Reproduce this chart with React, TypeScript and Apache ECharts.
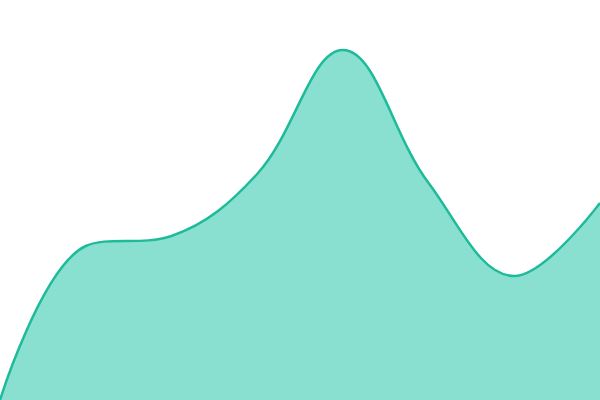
import { useRef, useEffect } from 'react';
import * as echarts from 'echarts';

const categories = ['1', '2', '3', '4', '5', '6', '7', '8'];
const values = [0, 154, 164, 226, 350, 217, 124, 197];

export default function App() {
  const chartRef = useRef<HTMLDivElement>(null);
  useEffect(() => {
    let chart: echarts.ECharts | undefined;
    if (chartRef.current) {
      chart = echarts.init(chartRef.current, undefined, { renderer: 'svg' });
      chart.setOption({
        animation: false,
        grid: { left: 0, right: 0, top: 0, bottom: 0 },
        xAxis: {
          type: 'category',
          data: categories,
          boundaryGap: false,
          show: false,
        },
        yAxis: { type: 'value', min: 0, max: 400, show: false },
        series: [
          {
            type: 'line',
            data: values,
            smooth: 0.38,
            symbol: 'none',
            lineStyle: { color: '#1dbb99', width: 2.5 },
            areaStyle: { color: '#89e0d0', opacity: 1 },
          },
        ],
      });
    }
    return () => {
      chart?.dispose();
    };
  }, []);

  return (
    <div
      ref={chartRef}
      style={{ position: 'fixed', left: 0, top: 0, width: 600, height: 400 }}
    />
  );
}
